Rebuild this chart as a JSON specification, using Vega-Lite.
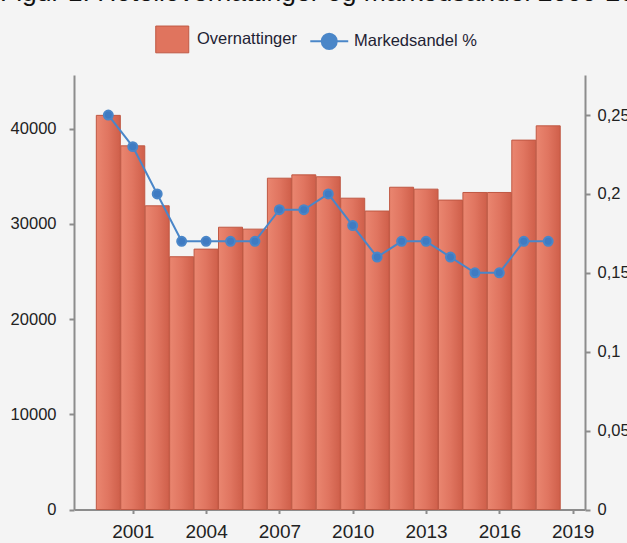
{
  "$schema": "https://vega.github.io/schema/vega-lite/v6.json",
  "width": 511,
  "height": 434.5,
  "autosize": "none",
  "padding": {"left": 74, "top": 75, "right": 42, "bottom": 33.5},
  "background": "#f4f4f4",
  "title": {
    "text": "Figur 1. Hotellovernattinger og markedsandel 2000-2018",
    "anchor": "start",
    "frame": "group",
    "font": "Liberation Sans",
    "fontSize": 26.5,
    "fontWeight": "normal",
    "color": "#111111",
    "dx": -74,
    "dy": -25,
    "offset": 0
  },
  "config": {
    "view": {"stroke": null},
    "axis": {
      "grid": false,
      "title": null,
      "domainColor": "#8c8c8c",
      "domainWidth": 2,
      "tickColor": "#8c8c8c",
      "tickWidth": 2,
      "labelFont": "Liberation Sans",
      "labelColor": "#222222"
    }
  },
  "data": {
    "values": [
      {"year": 2000, "overnattinger": 41400, "markedsandel": 0.25},
      {"year": 2001, "overnattinger": 38200, "markedsandel": 0.23},
      {"year": 2002, "overnattinger": 31900, "markedsandel": 0.20},
      {"year": 2003, "overnattinger": 26550, "markedsandel": 0.17},
      {"year": 2004, "overnattinger": 27350, "markedsandel": 0.17},
      {"year": 2005, "overnattinger": 29650, "markedsandel": 0.17},
      {"year": 2006, "overnattinger": 29450, "markedsandel": 0.17},
      {"year": 2007, "overnattinger": 34800, "markedsandel": 0.19},
      {"year": 2008, "overnattinger": 35150, "markedsandel": 0.19},
      {"year": 2009, "overnattinger": 34950, "markedsandel": 0.20},
      {"year": 2010, "overnattinger": 32700, "markedsandel": 0.18},
      {"year": 2011, "overnattinger": 31350, "markedsandel": 0.16},
      {"year": 2012, "overnattinger": 33850, "markedsandel": 0.17},
      {"year": 2013, "overnattinger": 33650, "markedsandel": 0.17},
      {"year": 2014, "overnattinger": 32500, "markedsandel": 0.16},
      {"year": 2015, "overnattinger": 33300, "markedsandel": 0.15},
      {"year": 2016, "overnattinger": 33300, "markedsandel": 0.15},
      {"year": 2017, "overnattinger": 38800, "markedsandel": 0.17},
      {"year": 2018, "overnattinger": 40300, "markedsandel": 0.17}
    ]
  },
  "encoding": {
    "x": {
      "field": "year",
      "type": "quantitative",
      "scale": {"domain": [1998.8, 2019.3], "nice": false, "zero": false},
      "axis": {
        "orient": "bottom",
        "values": [2001, 2004, 2007, 2010, 2013, 2016, 2019],
        "format": "d",
        "tickSize": 4,
        "labelPadding": 9,
        "labelFontSize": 19
      }
    }
  },
  "layer": [
    {
      "mark": {
        "type": "bar",
        "width": 24,
        "strokeWidth": 1,
        "stroke": "#bf5843",
        "fill": {
          "gradient": "linear",
          "x1": 0, "y1": 0, "x2": 1, "y2": 0,
          "stops": [
            {"offset": 0, "color": "#ea8670"},
            {"offset": 0.5, "color": "#e07560"},
            {"offset": 1, "color": "#cf5f4a"}
          ]
        }
      },
      "encoding": {
        "y": {
          "field": "overnattinger",
          "type": "quantitative",
          "scale": {"domain": [0, 45640], "nice": false},
          "axis": {
            "orient": "left",
            "values": [0, 10000, 20000, 30000, 40000],
            "format": "d",
            "tickSize": 5,
            "labelPadding": 13,
            "labelFontSize": 16.5
          }
        }
      }
    },
    {
      "mark": {
        "type": "line",
        "strokeWidth": 2,
        "point": {"filled": true, "size": 80, "color": "#3f7bc2", "opacity": 1}
      },
      "encoding": {
        "y": {
          "field": "markedsandel",
          "type": "quantitative",
          "scale": {"domain": [0, 0.2754], "nice": false},
          "axis": {
            "orient": "right",
            "values": [0, 0.05, 0.1, 0.15, 0.2, 0.25],
            "labelExpr": "replace(format(datum.value, '~g'), '.', ',')",
            "tickSize": 5,
            "labelPadding": 7,
            "labelFontSize": 16.5
          }
        },
        "stroke": {
          "datum": "Markedsandel %",
          "type": "nominal",
          "scale": {"domain": ["Overnattinger", "Markedsandel %"], "range": ["#bf5843", "#4a86c8"]},
          "legend": {
            "title": null,
            "orient": "none",
            "direction": "horizontal",
            "legendX": 90,
            "legendY": -44,
            "padding": 0,
            "symbolSize": 676,
            "labelOffset": 16.5,
            "columnPadding": 9,
            "labelFont": "Liberation Sans",
            "labelFontSize": 16.5,
            "labelColor": "#1e2233",
            "encode": {
              "symbols": {
                "update": {
                  "shape": {"signal": "datum.value === 'Overnattinger' ? 'M-1.27,-1.03H1.27V1.03H-1.27Z' : 'M-1.46,0H1.46M0.58,0A0.58,0.58 0 1 1 -0.58,0A0.58,0.58 0 1 1 0.58,0Z'"},
                  "fill": {"signal": "datum.value === 'Overnattinger' ? '#e0745e' : '#4a86c8'"},
                  "stroke": {"signal": "datum.value === 'Overnattinger' ? '#c25a45' : '#4a86c8'"},
                  "strokeWidth": {"signal": "datum.value === 'Overnattinger' ? 1 : 2"},
                  "opacity": {"value": 1},
                  "fillOpacity": {"value": 1},
                  "strokeOpacity": {"value": 1}
                }
              }
            }
          }
        }
      }
    }
  ],
  "resolve": {"scale": {"y": "independent"}}
}
